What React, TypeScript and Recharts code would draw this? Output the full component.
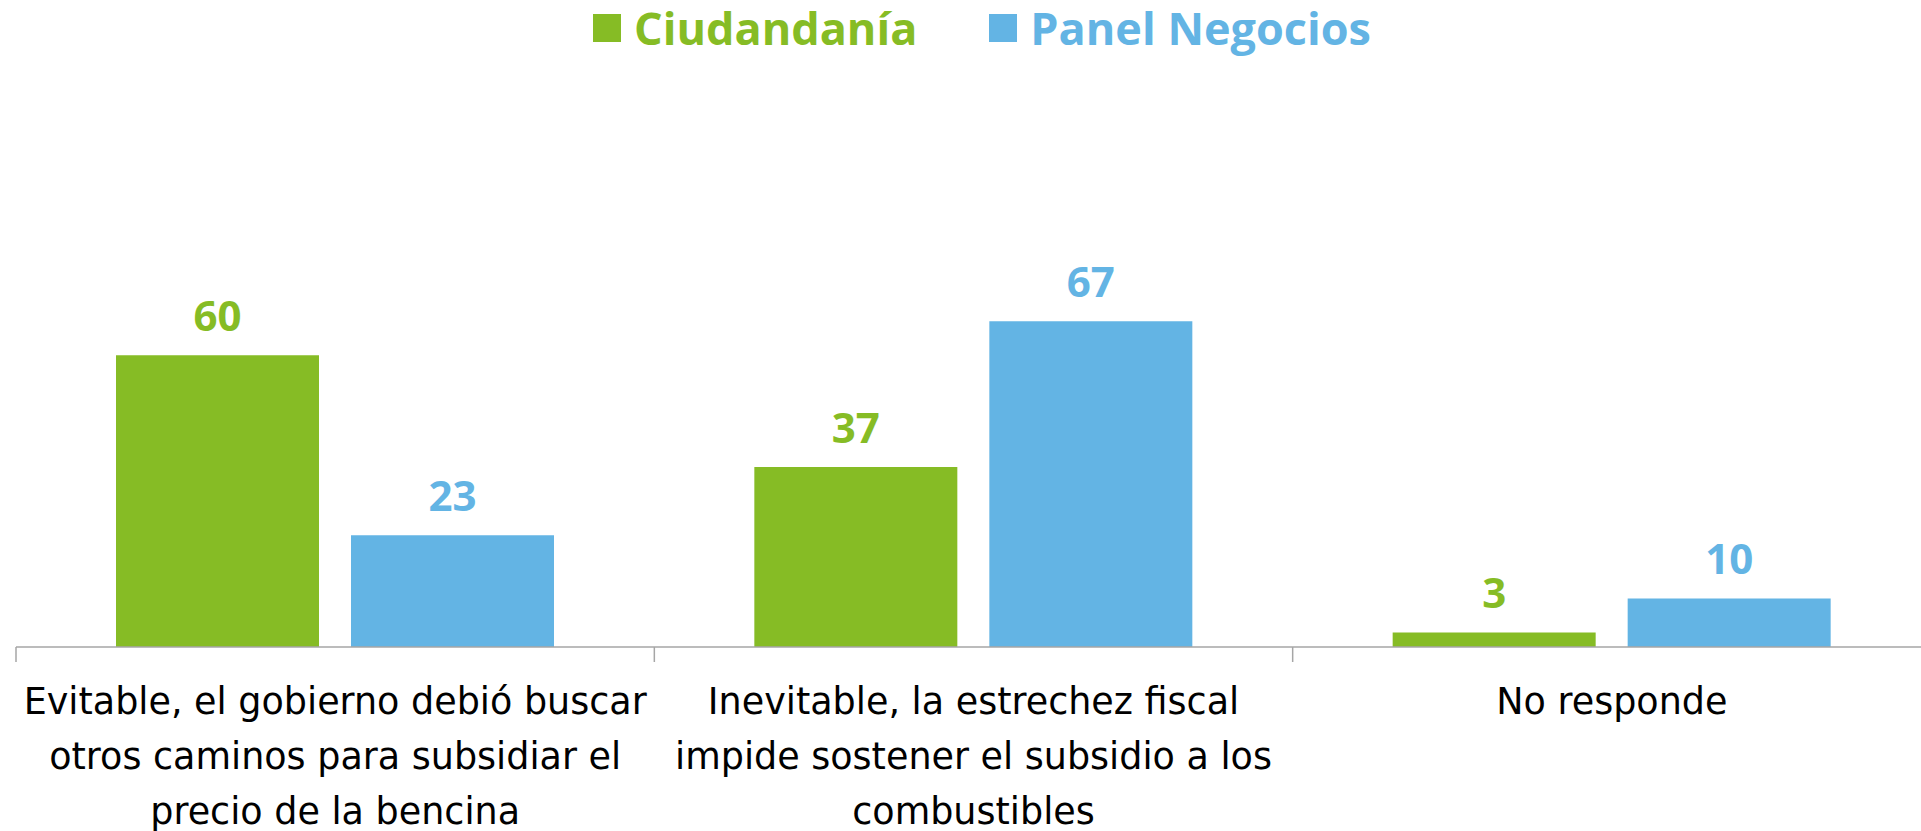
import { BarChart, Bar, XAxis, YAxis, LabelList } from 'recharts';

const categories = ['Evitable', 'Inevitable', 'No responde'];
const categoryLines = [
  ['Evitable, el gobierno debió buscar', 'otros caminos para subsidiar el', 'precio de la bencina'],
  ['Inevitable, la estrechez fiscal', 'impide sostener el subsidio a los', 'combustibles'],
  ['No responde'],
];
const ciudadania = [60, 37, 3];
const panelNegocios = [23, 67, 10];

const SERIES = [
  { key: 'ciudadania', name: 'Ciudandanía', color: '#86BC25' },
  { key: 'panel', name: 'Panel Negocios', color: '#63B4E4' },
];

const FONT = '"Open Sans", Inter, sans-serif';
const LABEL_FONT = '"DejaVu Sans", "Open Sans", sans-serif';

const data = categories.map((c, i) => ({
  name: c,
  ciudadania: ciudadania[i],
  panel: panelNegocios[i],
}));

function CategoryTick(props: any) {
  const { x, y, payload } = props;
  const lines = categoryLines[payload.index] ?? [String(payload.value)];
  const half = payload.offset ?? 0;
  return (
    <g>
      <line x1={x - half} x2={x - half} y1={y} y2={y + 15} stroke="#a6a6a6" strokeWidth={1.5} />
      {lines.map((l: string, i: number) => (
        <text
          key={i}
          x={x}
          y={y + 67 + i * 55}
          textAnchor="middle"
          fontFamily={LABEL_FONT}
          fontSize={36.5}
          fill="#000"
        >
          {l}
        </text>
      ))}
    </g>
  );
}

export default function App() {
  return (
    <div style={{ position: 'absolute', left: 0, top: 0, width: 1921, height: 831, overflow: 'hidden', background: '#fff' }}>
      <div
        style={{
          position: 'absolute',
          top: 0,
          left: 593,
          height: 56,
          display: 'flex',
          alignItems: 'center',
          fontFamily: FONT,
          fontWeight: 700,
          fontSize: 45,
          lineHeight: 1.2,
        }}
      >
        {SERIES.map((s, i) => (
          <div key={s.key} style={{ display: 'flex', alignItems: 'center', marginLeft: i ? 72 : 0, color: s.color }}>
            <span style={{ width: 28, height: 28, background: s.color, display: 'inline-block', marginRight: 13 }} />
            {s.name}
          </div>
        ))}
      </div>
      <BarChart
        width={1945}
        height={831}
        data={data}
        margin={{ top: 258, right: 14, left: 16, bottom: 0 }}
        barCategoryGap={100}
        barGap={32}
      >
        <XAxis
          dataKey="name"
          height={184}
          tickSize={0}
          tickMargin={0}
          tickLine={false}
          axisLine={{ stroke: '#a6a6a6', strokeWidth: 1.5 }}
          tick={<CategoryTick />}
          interval={0}
        />
        <YAxis hide domain={[0, 80]} />
        {SERIES.map((s) => (
          <Bar key={s.key} dataKey={s.key} name={s.name} fill={s.color} isAnimationActive={false}>
            <LabelList
              dataKey={s.key}
              position="top"
              offset={24}
              fill={s.color}
              fontFamily={FONT}
              fontWeight={700}
              fontSize={42}
            />
          </Bar>
        ))}
      </BarChart>
    </div>
  );
}
